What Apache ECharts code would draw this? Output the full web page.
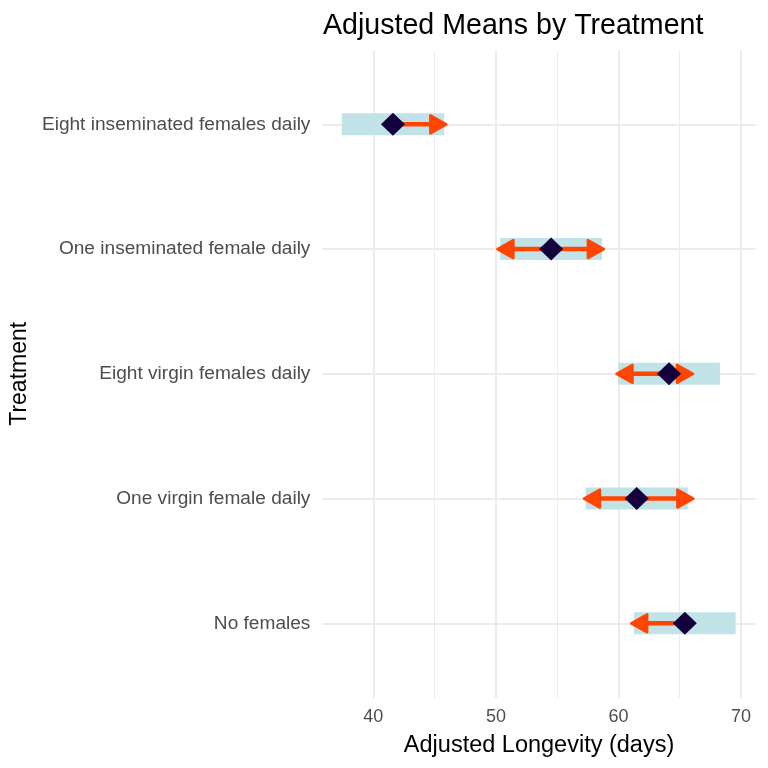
<!DOCTYPE html>
<html lang="en">
<head>
  <meta charset="UTF-8">
  <script src="https://cdn.jsdelivr.net/npm/echarts@6.0.0/dist/echarts.min.js"></script>
  <title>adjusted means</title>
</head>
<style>
  html, body { margin: 0; height: 100%; background: #fff; }
  #chart { width: 768px; height: 768px; }
</style>
<body>
  <div id="chart"></div>
  <script type="text/javascript">
    // treatments, top to bottom
    var treatments = ['Eight inseminated females daily', 'One inseminated female daily',
      'Eight virgin females daily', 'One virgin female daily', 'No females'];
    var means = [41.57, 54.49, 64.12, 61.48, 65.41];
    var lowerCL = [37.39, 50.33, 59.97, 57.31, 61.25];
    var upperCL = [45.76, 58.66, 68.28, 65.65, 69.56];
    // comparison arrows (null = no arrow on that side)
    var arrowLeft = [null, 50.1, 59.83, 57.17, 61.03];
    var arrowRight = [45.93, 58.8, 66.08, 66.11, null];
    var majorTicks = [40, 50, 60, 70];

    var font = '"Liberation Sans", Arial, sans-serif';
    var gridColor = '#ebebeb';
    var xMin = 35.81, xMax = 71.2;

    var chart = echarts.init(document.getElementById('chart'));

    var ciData = treatments.map(function (t, i) { return [lowerCL[i], upperCL[i], i]; });
    var arrowData = treatments.map(function (t, i) {
      return [means[i], arrowLeft[i] == null ? '-' : arrowLeft[i], arrowRight[i] == null ? '-' : arrowRight[i], i];
    });
    var meanData = treatments.map(function (t, i) { return [means[i], i]; });

    function head(tip, dir) {
      // closed arrow head pointing left (dir=-1) or right (dir=1)
      var len = 16, half = 9;
      return {
        type: 'polygon',
        shape: { points: [[tip[0], tip[1]], [tip[0] - dir * len, tip[1] - half], [tip[0] - dir * len, tip[1] + half]] },
        style: { fill: '#ff4500', stroke: '#ff4500', lineWidth: 2.5, lineJoin: 'round' }
      };
    }

    var option = {
      animation: false,
      backgroundColor: '#fff',
      textStyle: { fontFamily: font },
      title: {
        text: 'Adjusted Means by Treatment',
        left: 318, top: 7,
        textStyle: { fontSize: 28.6, fontWeight: 'normal', color: '#000', fontFamily: font }
      },
      grid: [
        { left: 250.8, right: 12.3, top: 50, bottom: 70 },   // major vertical lines
        { left: 312.07, right: 12.3, top: 50, bottom: 70 },  // minor vertical lines
        { left: 322, right: 12.3, top: 124.3, bottom: 144.7 } // data
      ],
      xAxis: [
        {
          gridIndex: 0, type: 'value', min: 30, max: xMax, interval: 10,
          axisLine: { show: false }, axisTick: { show: false },
          axisLabel: {
            color: '#4d4d4d', fontSize: 18, margin: 10, showMinLabel: false, showMaxLabel: false,
            formatter: function (v) { return majorTicks.indexOf(v) >= 0 ? String(v) : ''; }
          },
          splitLine: { show: true, showMinLine: false, showMaxLine: false, lineStyle: { color: gridColor, width: 2 } }
        },
        {
          gridIndex: 1, type: 'value', min: 35, max: xMax, interval: 10,
          axisLine: { show: false }, axisTick: { show: false }, axisLabel: { show: false },
          splitLine: { show: true, showMinLine: false, showMaxLine: false, lineStyle: { color: gridColor, width: 1 } }
        },
        {
          gridIndex: 2, type: 'value', min: xMin, max: xMax,
          axisLine: { show: false }, axisTick: { show: false }, axisLabel: { show: false },
          splitLine: { show: false },
          name: 'Adjusted Longevity (days)', nameLocation: 'middle', nameGap: 110,
          nameTextStyle: { fontSize: 23.5, color: '#000', fontFamily: font }
        }
      ],
      yAxis: [
        { gridIndex: 0, type: 'value', show: false },
        { gridIndex: 1, type: 'value', show: false },
        {
          gridIndex: 2, type: 'category', data: treatments, inverse: true, boundaryGap: false,
          axisLine: { show: false }, axisTick: { show: false },
          axisLabel: { color: '#4d4d4d', fontSize: 19.1, margin: 12, interval: 0 },
          splitLine: { show: true, interval: 0, lineStyle: { color: gridColor, width: 2 } },
          name: 'Treatment', nameLocation: 'middle', nameRotate: 90, nameGap: 288,
          nameTextStyle: { fontSize: 23, color: '#000', fontFamily: font }
        }
      ],
      series: [
        {
          type: 'custom', xAxisIndex: 2, yAxisIndex: 2, data: ciData,
          renderItem: function (params, api) {
            var a = api.coord([api.value(0), api.value(2)]);
            var b = api.coord([api.value(1), api.value(2)]);
            return {
              type: 'rect',
              shape: { x: a[0], y: a[1] - 11, width: b[0] - a[0], height: 22 },
              style: { fill: '#c1e3e8' }
            };
          }
        },
        {
          type: 'custom', xAxisIndex: 2, yAxisIndex: 2, data: arrowData,
          renderItem: function (params, api) {
            var row = api.value(3);
            var m = api.coord([api.value(0), row]);
            var kids = [];
            var lv = api.value(1), rv = api.value(2);
            [[lv, -1], [rv, 1]].forEach(function (p) {
              if (p[0] === '-' || isNaN(p[0])) return;
              var tip = api.coord([p[0], row]);
              kids.push({
                type: 'line',
                shape: { x1: m[0], y1: m[1], x2: tip[0] - p[1] * 10, y2: tip[1] },
                style: { stroke: '#ff4500', lineWidth: 4.5 }
              });
              kids.push(head(tip, p[1]));
            });
            return { type: 'group', children: kids };
          }
        },
        {
          type: 'scatter', xAxisIndex: 2, yAxisIndex: 2, data: meanData,
          symbol: 'diamond', symbolSize: [24, 23],
          itemStyle: { color: '#14003c', opacity: 1 }
        }
      ]
    };

    chart.setOption(option);
  </script>
</body>
</html>
